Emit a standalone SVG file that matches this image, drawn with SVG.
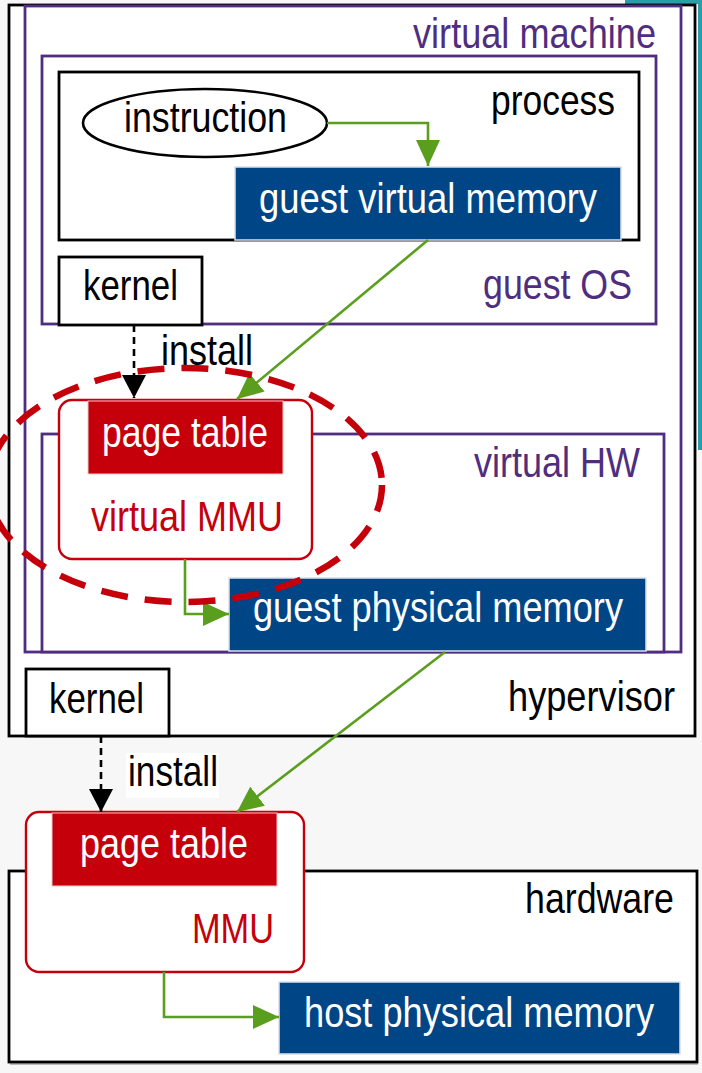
<svg xmlns="http://www.w3.org/2000/svg" width="702" height="1073" viewBox="0 0 702 1073">
<style>
text{font-family:"Liberation Sans Narrow","Liberation Sans",Arial,sans-serif;font-size:43px}
.blk{fill:#000}
.pur{fill:#4f2d7f}
.wht{fill:#fff}
.red{fill:#c5000b}
.bbox{fill:#fff;stroke:#000;stroke-width:2.8}
.pbox{fill:#fff;stroke:#4f2d7f;stroke-width:2.8}
.mem{fill:#004586;stroke:#dde0ea;stroke-width:1.5}
.pt{fill:#c5000b;stroke:#f0c8cc;stroke-width:1}
.mmu{fill:#fff;stroke:#c5000b;stroke-width:2.4}
.g{fill:none;stroke:#5a9e1e;stroke-width:2.6}
.d{fill:none;stroke:#000;stroke-width:2.6;stroke-dasharray:7 5}
</style>
<defs>
<marker id="ga" markerUnits="userSpaceOnUse" markerWidth="26" markerHeight="24" refX="26" refY="12" orient="auto" viewBox="0 0 26 24"><path d="M0,0 L26,12 L0,24 Z" fill="#5a9e1e"/></marker>
<marker id="ba" markerUnits="userSpaceOnUse" markerWidth="23" markerHeight="24" refX="23" refY="12" orient="auto" viewBox="0 0 23 24"><path d="M0,0 L23,12 L0,24 Z" fill="#000"/></marker>
</defs>
<rect x="0" y="0" width="702" height="1073" fill="#f7f7f7"/>
<path d="M625,0 H702 V450 H698 V4 H625 Z" fill="#2a9ea8"/>

<g id="hypervisor">
<rect class="bbox" x="9" y="5" width="686" height="731"/>
<text class="blk" x="508" y="711" textLength="167" lengthAdjust="spacingAndGlyphs">hypervisor</text>
</g>
<g id="virtual-machine">
<rect class="pbox" x="25" y="6" width="656" height="646"/>
<text class="pur" x="413" y="48" textLength="243" lengthAdjust="spacingAndGlyphs">virtual machine</text>
</g>
<g id="guest-os">
<rect class="pbox" x="42" y="56" width="614" height="268"/>
<text class="pur" x="483" y="299" textLength="149" lengthAdjust="spacingAndGlyphs">guest OS</text>
</g>
<g id="process">
<rect class="bbox" x="59" y="72" width="580" height="168"/>
<text class="blk" x="491" y="115" textLength="124" lengthAdjust="spacingAndGlyphs">process</text>
</g>
<g id="instruction">
<ellipse cx="205" cy="123" rx="122" ry="34" fill="#fff" stroke="#000" stroke-width="2.6"/>
<text class="blk" x="124" y="132" textLength="163" lengthAdjust="spacingAndGlyphs">instruction</text>
</g>
<g id="guest-virtual-memory">
<rect class="mem" x="235" y="167" width="386" height="73"/>
<text class="wht" x="259" y="213" textLength="338" lengthAdjust="spacingAndGlyphs">guest virtual memory</text>
</g>
<g id="guest-kernel">
<rect class="bbox" x="59" y="257" width="143" height="68"/>
<text class="blk" x="83" y="300" textLength="95" lengthAdjust="spacingAndGlyphs">kernel</text>
</g>
<g id="virtual-hw">
<rect class="pbox" x="42" y="434" width="622" height="218"/>
<text class="pur" x="474" y="477" textLength="166" lengthAdjust="spacingAndGlyphs">virtual HW</text>
</g>
<g id="virtual-mmu">
<rect class="mmu" x="59" y="400" width="253" height="159" rx="13"/>
<text class="red" x="91" y="531" textLength="192" lengthAdjust="spacingAndGlyphs">virtual MMU</text>
</g>
<g id="guest-page-table">
<rect class="pt" x="88" y="401" width="195" height="73"/>
<text class="wht" x="102" y="447" textLength="166" lengthAdjust="spacingAndGlyphs">page table</text>
</g>
<g id="guest-physical-memory">
<rect class="mem" x="229" y="578" width="417" height="73"/>
<text class="wht" x="253" y="622" textLength="370" lengthAdjust="spacingAndGlyphs">guest physical memory</text>
</g>
<g id="host-kernel">
<rect class="bbox" x="26" y="669" width="143" height="67"/>
<text class="blk" x="49" y="713" textLength="95" lengthAdjust="spacingAndGlyphs">kernel</text>
</g>
<g id="hardware">
<rect x="10" y="873" width="688" height="192" fill="#bbb"/>
<rect class="bbox" x="9" y="871" width="688" height="191"/>
<text class="blk" x="525" y="913" textLength="149" lengthAdjust="spacingAndGlyphs">hardware</text>
</g>
<g id="mmu">
<rect class="mmu" x="26" y="812" width="278" height="160" rx="13"/>
<text class="red" x="192" y="943" textLength="82" lengthAdjust="spacingAndGlyphs">MMU</text>
</g>
<g id="host-page-table">
<rect class="pt" x="52" y="813" width="225" height="73"/>
<text class="wht" x="80" y="858" textLength="168" lengthAdjust="spacingAndGlyphs">page table</text>
</g>
<g id="host-physical-memory">
<rect class="mem" x="279" y="982" width="401" height="72"/>
<text class="wht" x="304" y="1027" textLength="350" lengthAdjust="spacingAndGlyphs">host physical memory</text>
</g>

<g id="connectors">
<path class="g" d="M327,123 H428 V166" marker-end="url(#ga)"/>
<path class="g" d="M428,240 L237,399" marker-end="url(#ga)"/>
<path class="g" d="M185,559 V614 H229" marker-end="url(#ga)"/>
<path class="g" d="M445,652 L237,812" marker-end="url(#ga)"/>
<path class="g" d="M164,972 V1017 H279" marker-end="url(#ga)"/>
<path class="d" d="M134,325 V398" marker-end="url(#ba)"/>
<path class="d" d="M101,736 V812" marker-end="url(#ba)"/>
<text class="blk" x="161" y="365" textLength="92" lengthAdjust="spacingAndGlyphs">install</text>
<rect x="126" y="753" width="93" height="45" fill="#fff"/>
<text class="blk" x="128" y="786" textLength="90" lengthAdjust="spacingAndGlyphs">install</text>
</g>
<g id="highlight">
<ellipse cx="185" cy="485" rx="197" ry="117" fill="none" stroke="#c5000b" stroke-width="6.5" stroke-dasharray="27 17"/>
</g>
</svg>
